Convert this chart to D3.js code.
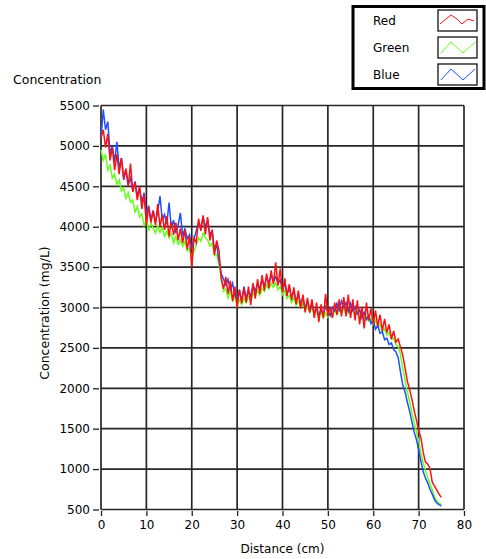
<!DOCTYPE html>
<html><head><meta charset="utf-8">
<script src="https://cdn.jsdelivr.net/npm/d3@7"></script>
<style>
html,body{margin:0;padding:0;background:#fff;}
svg{display:block;}
text{font-family:"DejaVu Sans",Verdana,sans-serif;fill:#000;}
</style></head>
<body>
<svg id="chart" width="486" height="559"></svg>
<script>
// ---- data ----
const distance = [0,0.5,1,1.5,2,2.5,3,3.5,4,4.5,5,5.5,6,6.5,7,7.5,8,8.5,9,9.5,10,10.5,11,11.5,12,12.5,13,13.5,14,14.5,15,15.5,16,16.5,17,17.5,18,18.5,19,19.5,20,20.5,21,21.5,22,22.5,23,23.5,24,24.5,25,25.5,26,26.5,27,27.5,28,28.5,29,29.5,30,30.5,31,31.5,32,32.5,33,33.5,34,34.5,35,35.5,36,36.5,37,37.5,38,38.5,39,39.5,40,40.5,41,41.5,42,42.5,43,43.5,44,44.5,45,45.5,46,46.5,47,47.5,48,48.5,49,49.5,50,50.5,51,51.5,52,52.5,53,53.5,54,54.5,55,55.5,56,56.5,57,57.5,58,58.5,59,59.5,60,60.5,61,61.5,62,62.5,63,63.5,64,64.5,65,65.5,66,66.5,67,67.5,68,68.5,69,69.5,70,70.5,71,71.5,72,72.5,73,73.5,74,74.5,75];

const redValues = [
5100,5200,4980,5150,4820,4980,4700,4900,4650,4850,
4600,4720,4500,4780,4430,4550,4330,4500,4220,4400,
4020,4250,4050,4200,4020,4280,4000,4150,3960,4130,
3880,4060,3900,4050,3830,3980,3800,3960,3720,3880,
3500,3860,3800,4100,3950,4140,3900,4120,3830,3960,
3650,3830,3700,3350,3230,3380,3170,3330,3080,3260,
3000,3220,3050,3240,3060,3260,3030,3300,3110,3350,
3170,3400,3210,3420,3240,3460,3290,3560,3270,3480,
3190,3360,3140,3290,3090,3250,3040,3210,2990,3160,
2940,3120,2940,3100,2870,3060,2820,3040,2870,3170,
2890,3010,2870,3060,2910,3100,2890,3130,2890,3160,
2870,3100,2840,3090,2790,3010,2740,3060,2840,2990,
2790,2960,2770,2910,2710,2860,2690,2790,2610,2710,
2570,2610,2510,2410,2260,2090,1990,1870,1730,1610,
1480,1390,1210,1090,1060,1010,840,790,740,690,650];

const greenValues = [
4950,4820,4900,4700,4760,4600,4650,4520,4580,4440,
4480,4350,4420,4300,4330,4180,4250,4120,4160,4020,
4080,3950,4050,3980,3920,4010,3930,3990,3880,3950,
3860,3920,3800,3880,3780,3840,3760,3820,3700,3730,
3620,3700,3780,3860,3820,3920,3860,3840,3760,3790,
3640,3660,3520,3380,3200,3230,3120,3200,3080,3140,
3020,3090,3040,3110,3060,3140,3090,3170,3140,3210,
3150,3240,3200,3280,3230,3300,3250,3310,3220,3260,
3160,3210,3110,3150,3060,3120,3030,3080,3000,3050,
2960,3020,2940,2990,2920,2960,2880,2940,2870,2930,
2880,2950,2890,2970,2910,2980,2930,2990,2920,2980,
2910,2970,2900,2950,2880,2920,2860,2900,2830,2870,
2790,2840,2760,2790,2700,2740,2660,2690,2610,2620,
2540,2520,2420,2250,2100,1960,1840,1700,1580,1460,
1350,1200,1080,990,900,820,740,660,600,580,555];

const blueValues = [
5100,5450,5200,5300,4900,5000,4800,5050,4720,4850,
4580,4700,4520,4600,4450,4560,4380,4480,4300,4420,
4150,4260,4080,4200,4050,4180,4380,4080,4150,4030,
4300,3980,4080,3920,4020,4170,3880,3980,3850,3900,
3720,3850,3950,4050,3980,4120,4000,4080,3900,3950,
3720,3780,3580,3420,3350,3280,3350,3220,3300,3150,
3100,3220,3080,3260,3120,3200,3140,3280,3200,3290,
3230,3350,3260,3380,3300,3400,3320,3380,3300,3340,
3220,3300,3170,3240,3130,3200,3070,3160,3040,3120,
2990,3080,2960,3040,2930,3000,2900,2970,2920,3010,
2950,2900,3000,2960,3050,2970,3080,3000,3060,2950,
3050,2960,3010,2920,2970,2870,2940,2850,2900,2800,
2850,2730,2780,2680,2700,2600,2620,2540,2560,2480,
2450,2380,2200,2040,1960,1830,1720,1590,1460,1370,
1240,1100,970,890,830,750,690,620,580,560,545];

const xTicks = [0,10,20,30,40,50,60,70,80];
const yTicks = [500,1000,1500,2000,2500,3000,3500,4000,4500,5000,5500];
const seriesNames = ["Red","Green","Blue"];
const seriesColors = ["#ff1010","#66ff1a","#1f4fff"];

// ---- drawing ----
const svg = d3.select("#chart");
const X0 = 101, X1 = 464, Y0 = 509.5, Y1 = 105.5;
const x = d3.scaleLinear().domain([0,80]).range([X0,X1]);
const y = d3.scaleLinear().domain([500,5500]).range([Y0,Y1]);

// grid
const grid = svg.append("g").attr("stroke","#262626").attr("stroke-width",1.7);
grid.selectAll("line.vx").data(xTicks).enter().append("line")
  .attr("x1",d=>x(d)).attr("x2",d=>x(d)).attr("y1",Y1).attr("y2",Y0);
grid.selectAll("line.hy").data(yTicks).enter().append("line")
  .attr("x1",X0).attr("x2",X1).attr("y1",d=>y(d)).attr("y2",d=>y(d));

// axes
const ax = svg.append("g").attr("transform",`translate(0,${Y0+1.5})`)
  .call(d3.axisBottom(x).tickValues(xTicks).tickSize(5).tickPadding(4).tickFormat(d3.format("d")));
const ay = svg.append("g").attr("transform",`translate(${X0-2},0)`)
  .call(d3.axisLeft(y).tickValues(yTicks).tickSize(6).tickPadding(3).tickFormat(d3.format("d")));
[ax,ay].forEach(a=>{
  a.select(".domain").remove();
  a.selectAll(".tick line").attr("stroke","#222").attr("stroke-width",1.3);
  a.selectAll(".tick text").style("font-family",'"DejaVu Sans",sans-serif').style("font-size","12px").attr("fill","#111");
});

// series (green under blue under red)
const allSeries = [greenValues, blueValues, redValues];
const allColors = [seriesColors[1], seriesColors[2], seriesColors[0]];
const line = d3.line().x((d,i)=>x(distance[i])).y(d=>y(d));
allSeries.forEach((vals,k)=>{
  svg.append("path").datum(vals).attr("d",line)
    .attr("fill","none").attr("stroke",allColors[k]).attr("stroke-width",1.5)
    .attr("stroke-linejoin","miter");
});

// labels
svg.append("text").attr("x",13).attr("y",84).style("font-size","12.5px").text("Concentration");
svg.append("text").attr("transform",`translate(49,313) rotate(-90)`)
  .attr("text-anchor","middle").style("font-size","12.5px").text("Concentration (mg/L)");
svg.append("text").attr("x",(X0+X1)/2).attr("y",553).attr("text-anchor","middle")
  .style("font-size","12px").text("Distance (cm)");

// legend
const lg = svg.append("g");
lg.append("rect").attr("x",353).attr("y",6.5).attr("width",131).attr("height",82)
  .attr("fill","#fff").attr("stroke","#000").attr("stroke-width",3);
const swY = [10,37,64];
const swShapes = [
  [[2,14],[8,9],[13,5],[19,9],[24,14],[30,9],[36,11]],
  [[3,16],[13,5],[25,16],[37,5]],
  [[3,16],[13,5],[25,16],[37,5]]
];
seriesNames.forEach((n,i)=>{
  lg.append("text").attr("x",373).attr("y",swY[i]+15).style("font-size","12px").text(n);
  const g = lg.append("g").attr("transform",`translate(438,${swY[i]})`);
  g.append("rect").attr("width",39).attr("height",21).attr("fill","#fff").attr("stroke","#111").attr("stroke-width",1.3);
  g.append("path").attr("d",d3.line()(swShapes[i])).attr("fill","none")
    .attr("stroke",seriesColors[i]).attr("stroke-width",1);
});
</script>
</body></html>
